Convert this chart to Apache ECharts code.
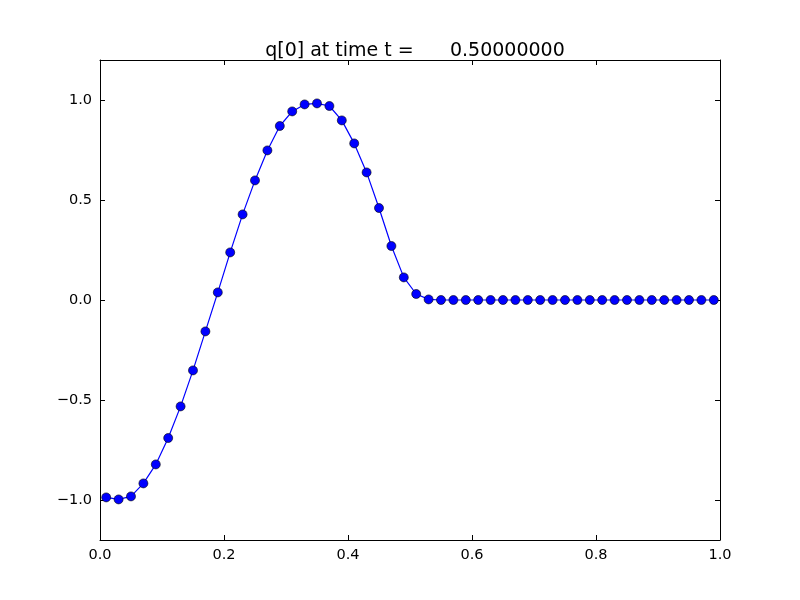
<!DOCTYPE html>
<html>
<head>
<meta charset="utf-8">
<script src="https://cdn.jsdelivr.net/npm/echarts@6/dist/echarts.min.js"></script>
<style>html,body{margin:0;padding:0;background:#fff}#c{width:800px;height:600px}</style>
</head>
<body>
<div id="c"></div>
<script>
const xValues = [0.01,0.03,0.05,0.07,0.09,0.11,0.13,0.15,0.17,0.19,0.21,0.23,0.25,0.27,0.29,0.31,0.33,0.35,0.37,0.39,0.41,0.43,0.45,0.47,0.49,0.51,0.53,0.55,0.57,0.59,0.61,0.63,0.65,0.67,0.69,0.71,0.73,0.75,0.77,0.79,0.81,0.83,0.85,0.87,0.89,0.91,0.93,0.95,0.97,0.99];
const qValues = [-0.987,-0.997,-0.982,-0.917,-0.822,-0.69,-0.532,-0.352,-0.157,0.038,0.238,0.428,0.598,0.748,0.87,0.943,0.978,0.983,0.97,0.898,0.783,0.638,0.46,0.27,0.113,0.03,0.003,0,0,0,0,0,0,0,0,0,0,0,0,0,0,0,0,0,0,0,0,0,0,0];
const xTicks = [0, 0.2, 0.4, 0.6, 0.8, 1.0];
const yTicks = [-1.0, -0.5, 0, 0.5, 1.0];
const titleText = 'q[0] at time t =      0.50000000';

const fmt = v => { const s = Number(v).toFixed(1); return s.replace('-', '\u2212'); };
const font = 'DejaVu Sans';
const chart = echarts.init(document.getElementById('c'), null, {renderer: 'canvas'});
const axisBase = {
  axisLine: {show: true, onZero: false, lineStyle: {color: '#000', width: 1}},
  splitLine: {show: false}
};
chart.setOption({
  animation: false,
  backgroundColor: '#fff',
  title: {text: titleText, left: 410, textAlign: 'center', top: 37,
    textStyle: {fontFamily: font, fontSize: 19, fontWeight: 'normal', color: '#000'}},
  grid: {left: 100, right: 80, top: 60, bottom: 60},
  xAxis: [
    Object.assign({}, axisBase, {type: 'value', min: 0, max: 1, position: 'bottom',
      axisTick: {show: true, inside: true, length: 5, customValues: xTicks, lineStyle: {color: '#000'}},
      axisLabel: {show: true, customValues: xTicks, formatter: fmt, margin: 8,
        fontFamily: font, fontSize: 14.5, color: '#000'}}),
    Object.assign({}, axisBase, {type: 'value', min: 0, max: 1, position: 'top',
      axisTick: {show: true, inside: true, length: 5, customValues: xTicks, lineStyle: {color: '#000'}},
      axisLabel: {show: false}})
  ],
  yAxis: [
    Object.assign({}, axisBase, {type: 'value', min: -1.2, max: 1.2, position: 'left',
      axisTick: {show: true, inside: true, length: 5, customValues: yTicks, lineStyle: {color: '#000'}},
      axisLabel: {show: true, customValues: yTicks, formatter: fmt, margin: 8,
        fontFamily: font, fontSize: 14.5, color: '#000'}}),
    Object.assign({}, axisBase, {type: 'value', min: -1.2, max: 1.2, position: 'right',
      axisTick: {show: true, inside: true, length: 5, customValues: yTicks, lineStyle: {color: '#000'}},
      axisLabel: {show: false}})
  ],
  series: [{
    type: 'line',
    data: xValues.map((x, i) => [x, qValues[i]]),
    symbol: 'circle',
    symbolSize: 9,
    showAllSymbol: true,
    lineStyle: {color: '#0000ff', width: 1.2},
    itemStyle: {color: '#0000ff', borderColor: '#000', borderWidth: 0.6},
    clip: false
  }]
});
</script>
</body>
</html>
